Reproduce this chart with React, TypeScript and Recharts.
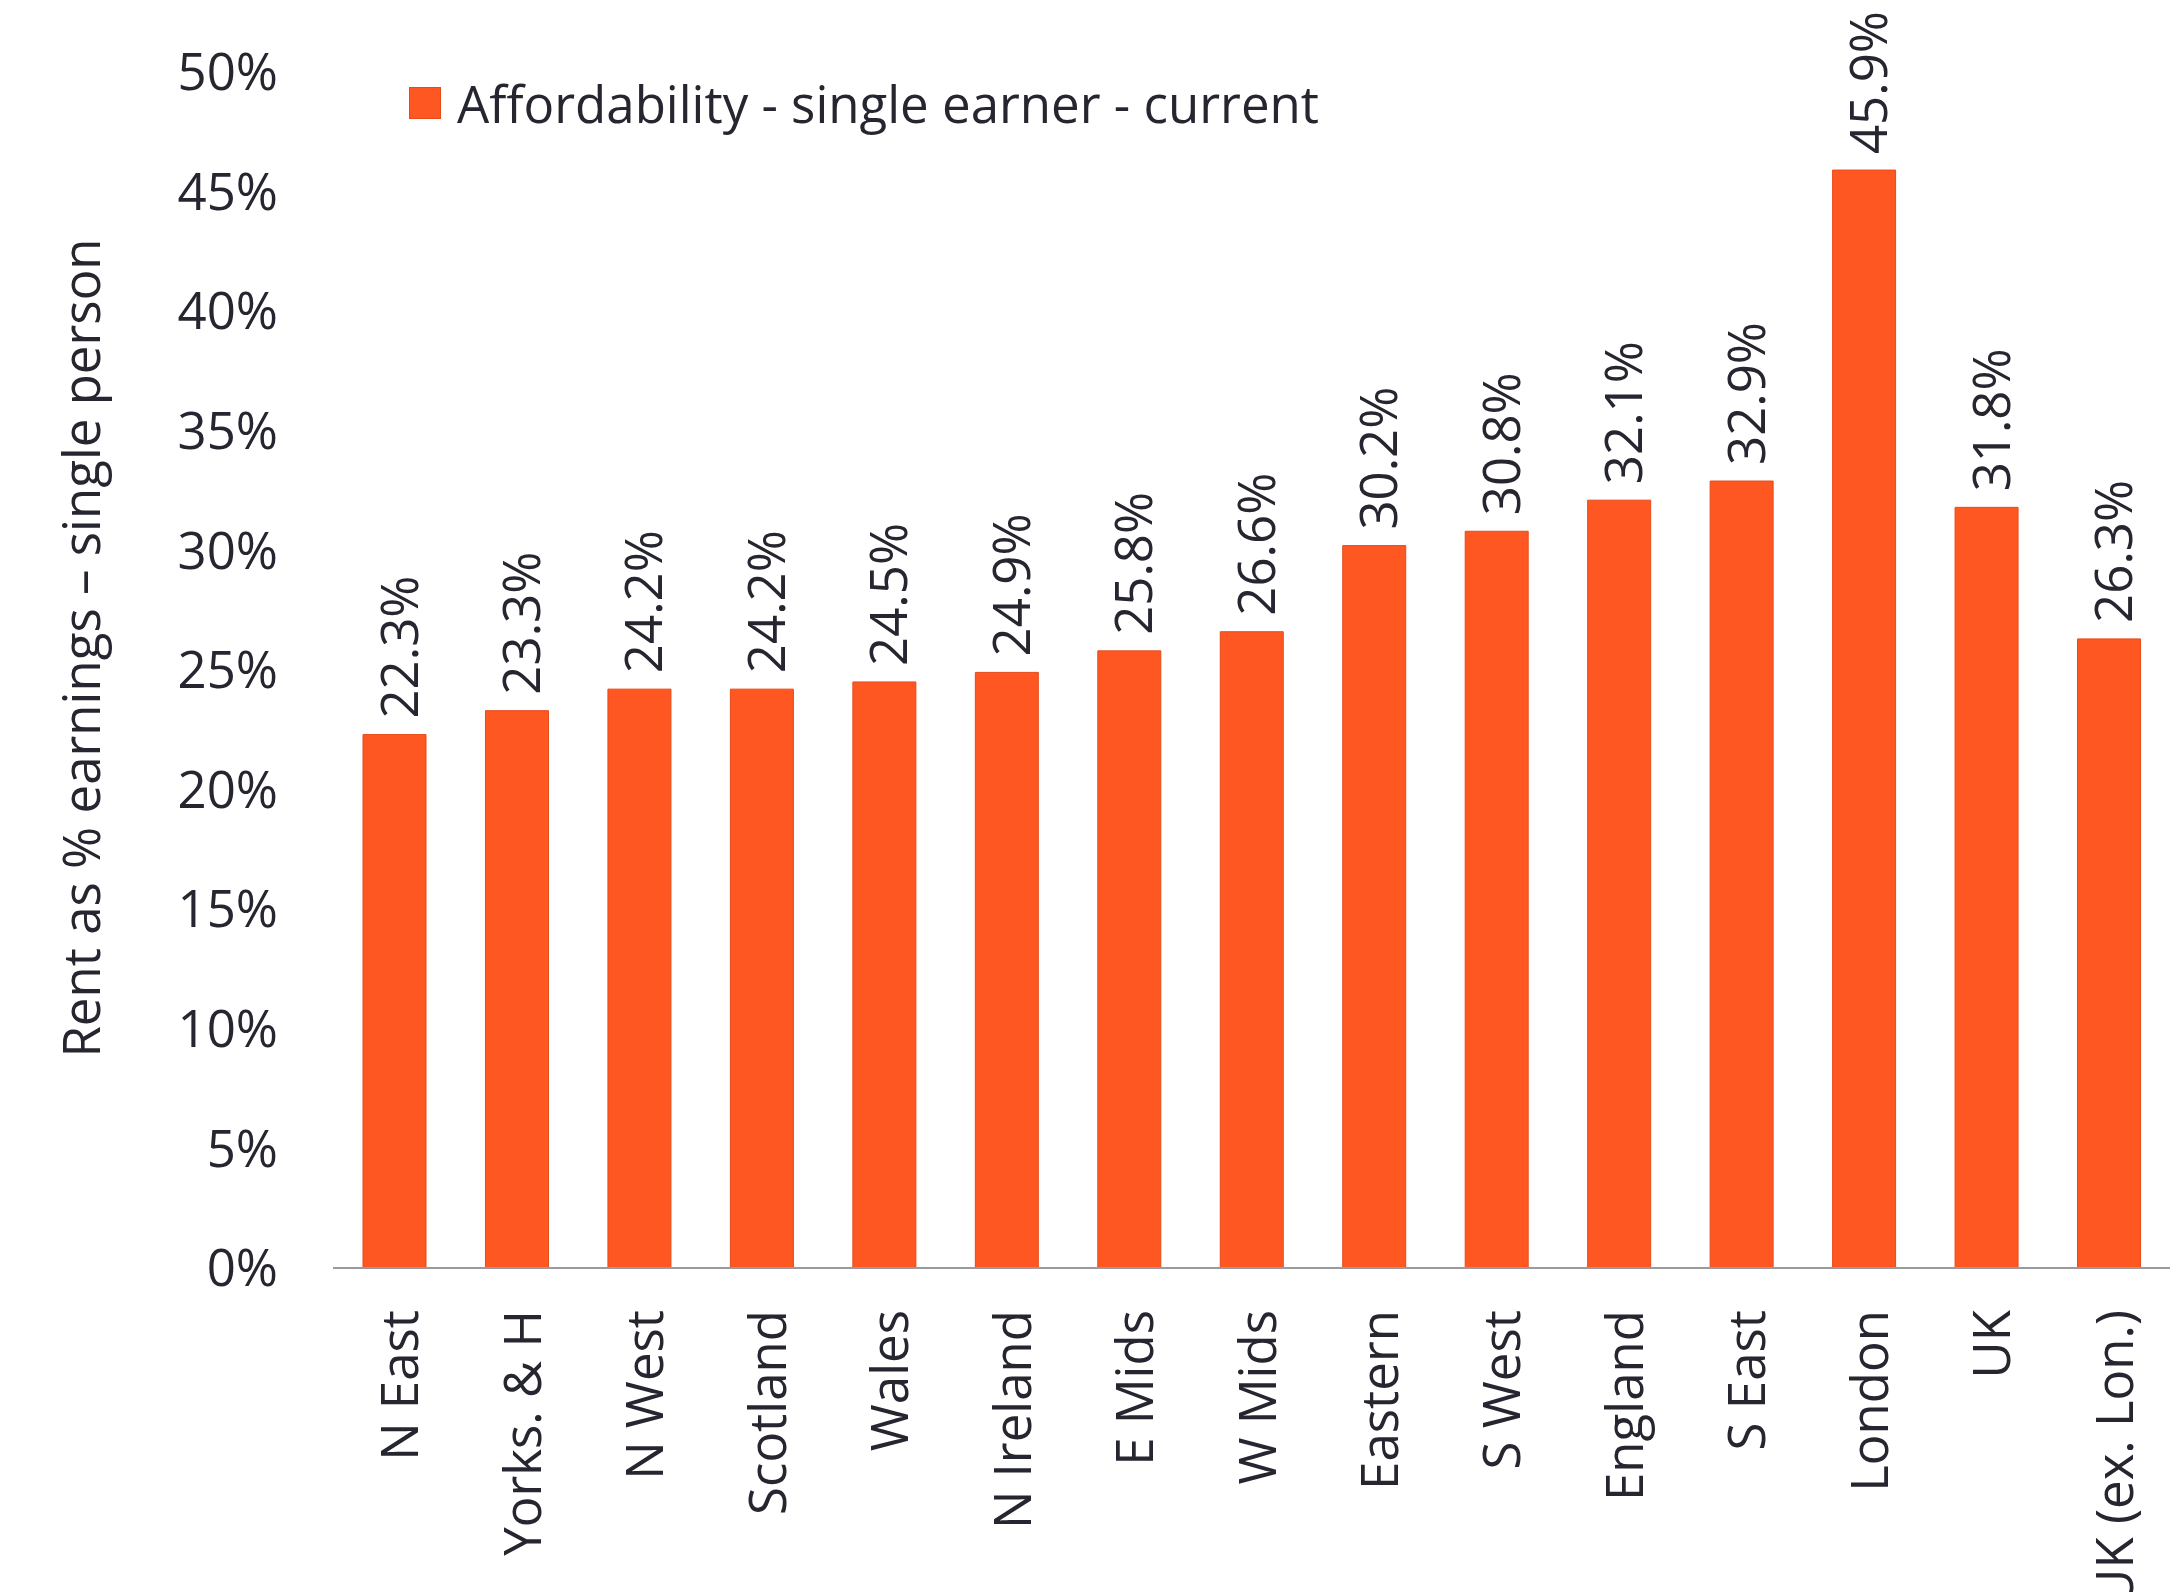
import { Bar, BarChart, LabelList, Legend, XAxis, YAxis } from "recharts";

const regions = [
  "N East",
  "Yorks. & H",
  "N West",
  "Scotland",
  "Wales",
  "N Ireland",
  "E Mids",
  "W Mids",
  "Eastern",
  "S West",
  "England",
  "S East",
  "London",
  "UK",
  "UK (ex. Lon.)"
];
const affordability = [22.3, 23.3, 24.2, 24.2, 24.5, 24.9, 25.8, 26.6, 30.2, 30.8, 32.1, 32.9, 45.9, 31.8, 26.3];
const yTicks = [0, 5, 10, 15, 20, 25, 30, 35, 40, 45, 50];

const seriesName = "Affordability - single earner - current";
const yTitle = "Rent as % earnings \u2013 single person";

const FONT = "'Open Sans', sans-serif";
const FS = 51;
const INK = "#262630";
const BAR = "#FF5722";

const data = regions.map((region, i) => ({ region, value: affordability[i] }));

function XTick(props: any) {
  const { x, y, payload } = props;
  return (
    <text
      x={0}
      y={0}
      transform={`translate(${x + 4},${y + 40}) rotate(-90)`}
      textAnchor="end"
      dominantBaseline="central"
      fill={INK}
      fontSize={FS}
      fontFamily={FONT}
    >
      {payload.value}
    </text>
  );
}

function ValueLabel(props: any) {
  const { x, y, width, value } = props;
  return (
    <text
      x={0}
      y={0}
      transform={`translate(${x + width / 2 + 3},${y - 16}) rotate(-90)`}
      textAnchor="start"
      dominantBaseline="central"
      fill={INK}
      fontSize={FS}
      fontFamily={FONT}
    >
      {`${Number(value).toFixed(1)}%`}
    </text>
  );
}

function YTitle(props: any) {
  const { viewBox } = props;
  const cy = viewBox.y + viewBox.height / 2;
  return (
    <text
      x={0}
      y={0}
      transform={`translate(80,${cy - 22}) rotate(-90)`}
      textAnchor="middle"
      dominantBaseline="central"
      fill={INK}
      fontSize={FS}
      fontFamily={FONT}
    >
      {yTitle}
    </text>
  );
}

function LegendBox() {
  return (
    <div style={{ display: "flex", alignItems: "center", fontFamily: FONT, fontSize: FS, color: INK }}>
      <span
        style={{
          display: "inline-block",
          width: 32,
          height: 32,
          background: BAR,
          border: "1px solid #E64A19",
          boxSizing: "border-box",
          marginRight: 16
        }}
      />
      <span style={{ lineHeight: "60px" }}>{seriesName}</span>
    </div>
  );
}

export default function App() {
  return (
    <div style={{ position: "absolute", left: 0, top: 0, width: 2177, height: 1592, background: "#fff" }}>
      <BarChart width={2177} height={1592} data={data} margin={{ top: 72, right: 7, left: 0, bottom: 0 }}>
        <XAxis
          dataKey="region"
          height={324}
          interval={0}
          tickLine={false}
          tickSize={0}
          axisLine={{ stroke: "#9A9AA0", strokeWidth: 2 }}
          tick={<XTick />}
        />
        <YAxis
          width={333}
          domain={[0, 50]}
          ticks={yTicks}
          interval={0}
          axisLine={false}
          tickLine={false}
          tickSize={0}
          tickMargin={55}
          tickFormatter={(v) => `${v}%`}
          tick={{ fill: INK, fontSize: FS, fontFamily: FONT }}
          label={<YTitle />}
        />
        <Legend
          layout="horizontal"
          verticalAlign="middle"
          align="center"
          content={<LegendBox />}
          wrapperStyle={{ top: 73, left: 409, width: "auto" }}
        />
        <Bar dataKey="value" name={seriesName} fill={BAR} stroke="#E64A19" strokeWidth={1} barSize={63} isAnimationActive={false}>
          <LabelList dataKey="value" content={<ValueLabel />} />
        </Bar>
      </BarChart>
    </div>
  );
}
